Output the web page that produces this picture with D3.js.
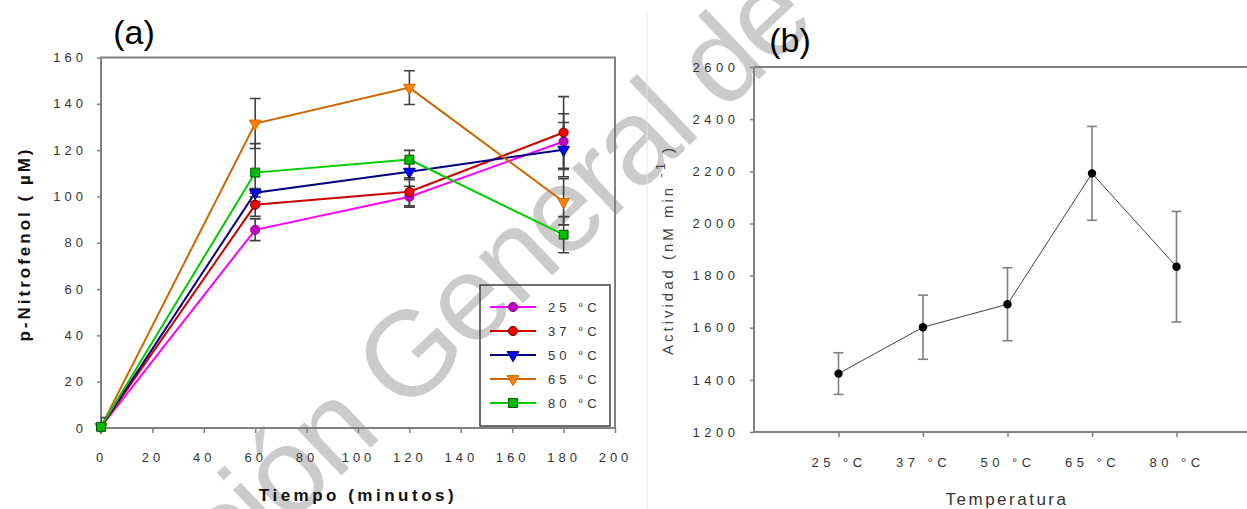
<!DOCTYPE html>
<html>
<head>
<meta charset="utf-8">
<script src="https://cdn.jsdelivr.net/npm/d3@7"></script>
<style>
body { margin: 0; background: #fff; }
svg text { font-family: "Liberation Sans", Arial, sans-serif; }
</style>
</head>
<body>
<svg id="fig" width="1247" height="509"></svg>
<script>
// ---- datos panel (a) ----
var tiempos = [0, 60, 120, 180];
var ticksTiempo = [0, 20, 40, 60, 80, 100, 120, 140, 160, 180, 200];
var ticksPNF = [0, 20, 40, 60, 80, 100, 120, 140, 160];
var nombres = ["25 °C", "37 °C", "50 °C", "65 °C", "80 °C"];
var pnf25 = [0.5, 85.6, 99.9, 123.7];
var err25 = [1, 4.7, 4.5, 12];
var pnf37 = [0.5, 96.4, 102, 127.6];
var err37 = [4, 5, 6, 15.5];
var pnf50 = [0.5, 101.6, 110.7, 120.2];
var err50 = [1, 1.8, 3.5, 11.7];
var pnf65 = [0.5, 131.5, 147, 97.7];
var err65 = [1, 10.8, 7.3, 10];
var pnf80 = [0.5, 110.3, 115.9, 83.5];
var err80 = [1, 12.5, 4, 7.8];

// ---- datos panel (b) ----
var temperaturas = ["25 °C", "37 °C", "50 °C", "65 °C", "80 °C"];
var actividad = [1424, 1602, 1690, 2192, 1834];
var errActividad = [80, 123, 140, 180, 212];
var ticksAct = [1200, 1400, 1600, 1800, 2000, 2200, 2400, 2600];

var marcaPre = "Dirección ";
var marcaPost = "General de Bibliotecas";

var svg = d3.select("#fig");

// marca de agua (detras de todo)
var wm = svg.append("text")
    .attr("transform", "translate(404,416) rotate(-43.5)")
    .attr("fill", "#cbcbcb")
    .attr("letter-spacing", -3)
    .style("font-size", "121px");
var pre = wm.append("tspan").text(marcaPre);
wm.append("tspan").text(marcaPost);
wm.attr("x", -pre.node().getComputedTextLength());

// separador
svg.append("line")
    .attr("x1", 647).attr("x2", 647).attr("y1", 12).attr("y2", 509)
    .attr("stroke", "#e6e6e6").attr("stroke-width", 1);

// =================== panel (a) ===================
var xA = d3.scaleLinear().domain([0, 200]).range([101, 615]);
var yA = d3.scaleLinear().domain([0, 160]).range([428, 57.5]);

var series = [
  {nombre: nombres[0], v: pnf25, e: err25, linea: "#ff00ff", relleno: "#c000c0", borde: "#900090", tipo: d3.symbolCircle, rot: 0},
  {nombre: nombres[1], v: pnf37, e: err37, linea: "#cc0000", relleno: "#ff0000", borde: "#600000", tipo: d3.symbolCircle, rot: 0},
  {nombre: nombres[2], v: pnf50, e: err50, linea: "#000080", relleno: "#0000ff", borde: "#000080", tipo: d3.symbolTriangle, rot: 180},
  {nombre: nombres[3], v: pnf65, e: err65, linea: "#cc6600", relleno: "#ff8000", borde: "#cc6600", tipo: d3.symbolTriangle, rot: 180},
  {nombre: nombres[4], v: pnf80, e: err80, linea: "#00cc00", relleno: "#00bb00", borde: "#005500", tipo: d3.symbolSquare, rot: 0}
];

var gA = svg.append("g").attr("class", "panel-a");

gA.append("clipPath").attr("id", "recorteA")
  .append("rect")
    .attr("x", xA(0)).attr("y", yA(160))
    .attr("width", xA(200) - xA(0)).attr("height", yA(0) - yA(160));

var axY = gA.append("g").attr("transform", "translate(101,0)")
    .call(d3.axisLeft(yA).tickValues(ticksPNF).tickSize(4).tickPadding(10).tickSizeOuter(0));
var axX = gA.append("g").attr("transform", "translate(0,428)")
    .call(d3.axisBottom(xA).tickValues(ticksTiempo).tickSize(5).tickPadding(20).tickSizeOuter(0));
[axY, axX].forEach(function(ax) {
  ax.select(".domain").remove();
  ax.selectAll("line").attr("stroke", "#808080").attr("stroke-width", 1.5);
  ax.selectAll("text").attr("fill", "#333").style("font-size", "13px")
    .attr("letter-spacing", 4).attr("font-family", null);
});

gA.append("rect")
    .attr("x", xA(0)).attr("y", yA(160))
    .attr("width", xA(200) - xA(0)).attr("height", yA(0) - yA(160))
    .attr("fill", "none").attr("stroke", "#808080").attr("stroke-width", 2);

var linea = d3.line()
    .x(function(d, i) { return xA(tiempos[i]); })
    .y(function(d) { return yA(d); });

series.forEach(function(s) {
  gA.append("path").attr("d", linea(s.v))
    .attr("fill", "none").attr("stroke", s.linea).attr("stroke-width", 2);
});

series.forEach(function(s) {
  var eb = gA.append("g").attr("clip-path", "url(#recorteA)");
  s.v.forEach(function(v, i) {
    var x = xA(tiempos[i]);
    eb.append("line").attr("x1", x).attr("x2", x)
      .attr("y1", yA(v - s.e[i])).attr("y2", yA(v + s.e[i]));
    [v - s.e[i], v + s.e[i]].forEach(function(c) {
      eb.append("line").attr("x1", x - 5.5).attr("x2", x + 5.5)
        .attr("y1", yA(c)).attr("y2", yA(c));
    });
  });
  eb.selectAll("line").attr("stroke", "#404040").attr("stroke-width", 1.6);
});

function marcador(s) {
  return d3.symbol().type(s.tipo).size(s.tipo === d3.symbolSquare ? 80 : (s.tipo === d3.symbolCircle ? 66 : 60));
}

series.forEach(function(s) {
  gA.append("g").selectAll("path")
    .data(s.v).enter().append("path")
      .attr("d", marcador(s))
      .attr("transform", function(d, i) { return "translate(" + xA(tiempos[i]) + "," + yA(d) + ") rotate(" + s.rot + ")"; })
      .attr("fill", s.relleno).attr("stroke", s.borde).attr("stroke-width", 1);
});

// leyenda
var leg = gA.append("g").attr("transform", "translate(480,285)");
leg.append("rect").attr("width", 130).attr("height", 141)
    .attr("fill", "none").attr("stroke", "#404040").attr("stroke-width", 1.5);
series.forEach(function(s, i) {
  var y = 22 + i * 24;
  leg.append("line").attr("x1", 10).attr("x2", 56).attr("y1", y).attr("y2", y)
    .attr("stroke", s.linea).attr("stroke-width", 2);
  leg.append("path").attr("d", marcador(s))
    .attr("transform", "translate(33," + y + ") rotate(" + s.rot + ")")
    .attr("fill", s.relleno).attr("stroke", s.borde).attr("stroke-width", 1);
  leg.append("text").attr("x", 68).attr("y", y + 5)
    .attr("fill", "#333").style("font-size", "13px").attr("letter-spacing", 4)
    .text(s.nombre);
});

gA.append("text").attr("x", 358).attr("y", 501).attr("text-anchor", "middle")
    .attr("fill", "#111").style("font-size", "17px").style("font-weight", "bold")
    .attr("letter-spacing", 3.5).text("Tiempo (minutos)");
gA.append("text").attr("transform", "translate(30,244) rotate(-90)").attr("text-anchor", "middle")
    .attr("fill", "#111").style("font-size", "17px").style("font-weight", "bold")
    .attr("letter-spacing", 3).text("p-Nitrofenol ( µM)");
gA.append("text").attr("x", 134).attr("y", 44).attr("text-anchor", "middle")
    .attr("fill", "#000").style("font-size", "34px").text("(a)");

// =================== panel (b) ===================
var xB = d3.scalePoint().domain(temperaturas).range([754, 1261]).padding(1);
var yB = d3.scaleLinear().domain([1200, 2600]).range([432, 67]);

var gB = svg.append("g").attr("class", "panel-b");

var byY = gB.append("g").attr("transform", "translate(754,0)")
    .call(d3.axisLeft(yB).tickValues(ticksAct).tickFormat(d3.format("d"))
      .tickSize(4).tickPadding(10.5).tickSizeOuter(0));
var byX = gB.append("g").attr("transform", "translate(0,432)")
    .call(d3.axisBottom(xB).tickSize(5).tickPadding(21).tickSizeOuter(0));
[byY, byX].forEach(function(ax) {
  ax.select(".domain").remove();
  ax.selectAll("line").attr("stroke", "#808080").attr("stroke-width", 1.5);
  ax.selectAll("text").attr("fill", "#333").style("font-size", "13px")
    .attr("letter-spacing", 4.5).attr("font-family", null);
});

gB.append("line").attr("x1", 754).attr("x2", 754).attr("y1", yB(2600)).attr("y2", yB(1200))
    .attr("stroke", "#808080").attr("stroke-width", 2);
gB.append("line").attr("x1", 754).attr("x2", 1247).attr("y1", yB(2600)).attr("y2", yB(2600))
    .attr("stroke", "#808080").attr("stroke-width", 2);
gB.append("line").attr("x1", 754).attr("x2", 1247).attr("y1", yB(1200)).attr("y2", yB(1200))
    .attr("stroke", "#808080").attr("stroke-width", 2);

gB.append("path")
    .attr("d", d3.line().x(function(d, i) { return xB(temperaturas[i]); }).y(function(d) { return yB(d); })(actividad))
    .attr("fill", "none").attr("stroke", "#404040").attr("stroke-width", 1);

var ebB = gB.append("g");
actividad.forEach(function(v, i) {
  var x = xB(temperaturas[i]);
  ebB.append("line").attr("x1", x).attr("x2", x)
    .attr("y1", yB(v - errActividad[i])).attr("y2", yB(v + errActividad[i]));
  [v - errActividad[i], v + errActividad[i]].forEach(function(c) {
    ebB.append("line").attr("x1", x - 5).attr("x2", x + 5).attr("y1", yB(c)).attr("y2", yB(c));
  });
});
ebB.selectAll("line").attr("stroke", "#808080").attr("stroke-width", 1.6);

gB.append("g").selectAll("circle")
  .data(actividad).enter().append("circle")
    .attr("cx", function(d, i) { return xB(temperaturas[i]); })
    .attr("cy", function(d) { return yB(d); })
    .attr("r", 4.2).attr("fill", "#000");

gB.append("text").attr("x", 1007).attr("y", 505).attr("text-anchor", "middle")
    .attr("fill", "#333").style("font-size", "17px").attr("letter-spacing", 2.5).text("Temperatura");

var tY = gB.append("text").attr("transform", "translate(673,250) rotate(-90)").attr("text-anchor", "middle")
    .attr("fill", "#444").style("font-size", "15px").attr("letter-spacing", 3);
tY.append("tspan").text("Actividad  (nM min ");
tY.append("tspan").attr("dy", -8).style("font-size", "13px").text("-1");
tY.append("tspan").attr("dy", 8).text(" )");

gB.append("text").attr("x", 790).attr("y", 52).attr("text-anchor", "middle")
    .attr("fill", "#000").style("font-size", "34px").text("(b)");
</script>
</body>
</html>
